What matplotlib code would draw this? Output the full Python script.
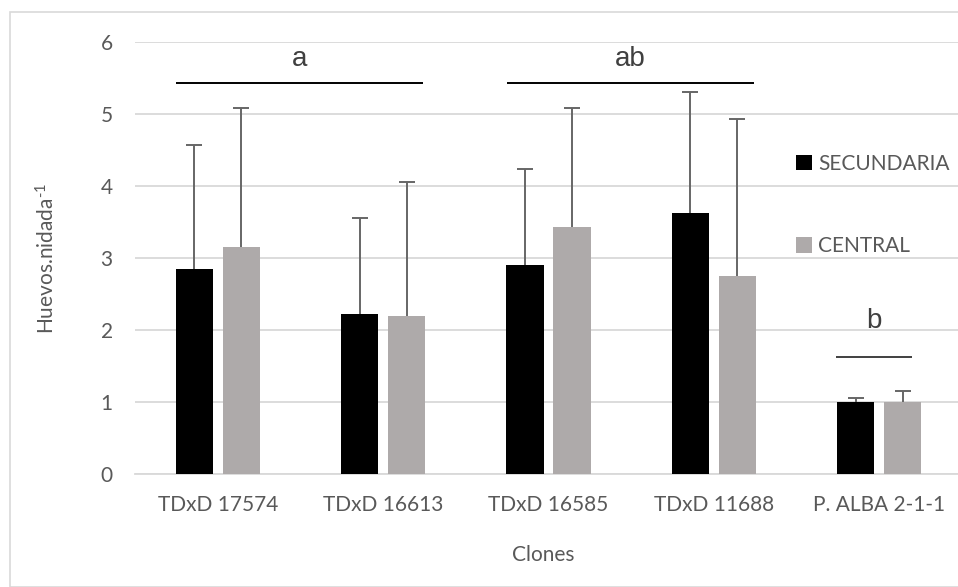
import numpy as np
import matplotlib
matplotlib.use("Agg")
import matplotlib.pyplot as plt
from matplotlib.patches import Rectangle

plt.rcParams['font.family'] = ['Lato', 'DejaVu Sans']
plt.rcParams['mathtext.fontset'] = 'custom'
plt.rcParams['mathtext.rm'] = 'Lato'
plt.rcParams['mathtext.default'] = 'regular'

clones = ["TDxD 17574", "TDxD 16613", "TDxD 16585", "TDxD 11688", "P. ALBA 2-1-1"]
secundaria = [2.85, 2.22, 2.90, 3.62, 1.00]
secundaria_err = [1.72, 1.33, 1.34, 1.68, 0.05]
central = [3.15, 2.20, 3.43, 2.75, 1.00]
central_err = [1.94, 1.86, 1.65, 2.18, 0.15]

# letters of significance: (label, first clone, last clone, height of line)
groups = [("a", 0, 1, 5.43), ("ab", 2, 3, 5.43), ("b", 4, 4, 1.63)]

W, H = 958, 587
fig = plt.figure(figsize=(W / 100, H / 100), dpi=100)
# axes in pixel terms (plot area runs slightly past the right edge, as in the source)
left, right, bottom, top = 135, 962, 474, 42
ax = fig.add_axes([left / W, 1 - bottom / H, (right - left) / W, (bottom - top) / H])

x = np.arange(len(clones))
bw = 0.225
off = 0.142
err_kw = dict(ecolor="#666666", elinewidth=1.4, capsize=5.5, capthick=1.4)
b1 = ax.bar(x - off, secundaria, bw, color="black", label="SECUNDARIA",
            yerr=[np.zeros(len(x)), secundaria_err], error_kw=err_kw, zorder=3)
b2 = ax.bar(x + off, central, bw, color="#aeaaaa", label="CENTRAL",
            yerr=[np.zeros(len(x)), central_err], error_kw=err_kw, zorder=3)
# only the upper cap is shown
for b in (b1, b2):
    b.errorbar.lines[1][0].set_visible(False)

ax.set_xlim(-0.5, len(clones) - 0.5)
ax.set_ylim(0, 6)
ax.set_yticks(range(7))
ax.set_xticks(x)
ax.set_xticklabels(clones)
ax.tick_params(length=0, labelsize=15, colors="#595959")
ax.tick_params(axis="x", pad=15)
ax.tick_params(axis="y", pad=16)
ax.grid(axis="y", color="#d9d9d9", linewidth=1.3, zorder=0)
for s in ["top", "right", "left"]:
    ax.spines[s].set_visible(False)
ax.spines["bottom"].set_color("#d9d9d9")
ax.spines["bottom"].set_linewidth(1.3)

for label, i0, i1, h in groups:
    if i0 == i1:
        x0, x1 = i0 - 0.26, i1 + 0.20
        col = "#404040"
        ty = h + 0.5
    else:
        x0, x1 = i0 - 0.25, i1 + 0.24
        col = "black"
        ty = h + 0.33
    ax.plot([x0, x1], [h, h], color=col, linewidth=1.4, solid_capstyle="butt")
    ax.text((x0 + x1) / 2, ty, label, ha="center", va="center", fontsize=20,
            color="#404040", family=["Liberation Sans", "DejaVu Sans"])

ax.set_ylabel(r"Huevos.nidada$^{\text{-}1}$", fontsize=15, color="#595959", labelpad=30)
fig.text(543 / W, 1 - 555 / H, "Clones", ha="center", va="center",
         fontsize=15, color="#595959")

leg = ax.legend(loc="center left", bbox_to_anchor=((788 - left) / (right - left), (bottom - 205) / (bottom - top)),
                frameon=False, fontsize=15, labelcolor="#595959", handlelength=0.75,
                handleheight=0.75, handletextpad=0.3, labelspacing=3.0, borderaxespad=0)

fig.patches.append(Rectangle((10 / W, 0), 2, 1 - 12 / H, transform=fig.transFigure,
                             fill=False, edgecolor="#d9d9d9", linewidth=1.2))

fig.savefig("out.png", dpi=100)
